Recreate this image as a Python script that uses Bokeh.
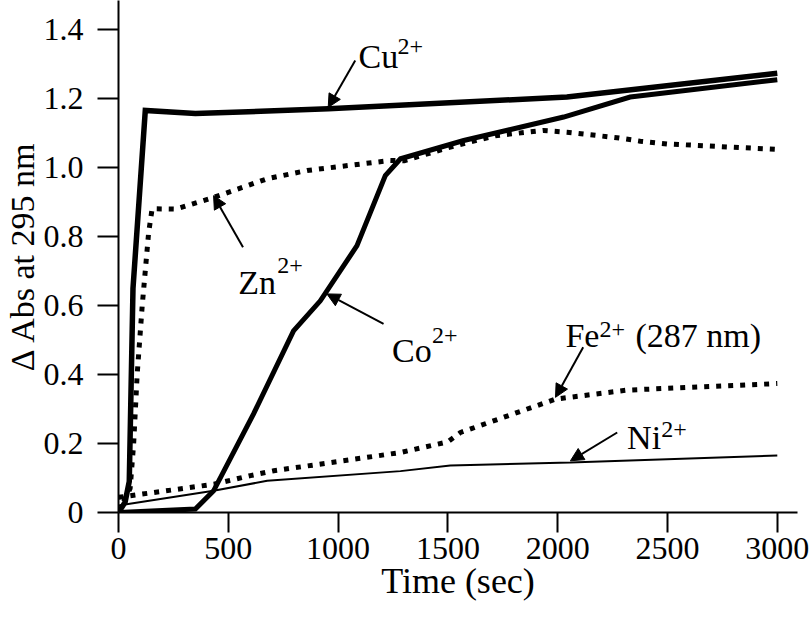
from bokeh.plotting import figure
from bokeh.models import Arrow, NormalHead, FixedTicker
from bokeh.core.properties import value
from bokeh.embed import file_html
from bokeh.resources import INLINE

# ---- data (time in sec, delta Abs) ----
cu_t = [0, 30, 49, 66, 122, 350, 956, 2042, 3000]
cu_v = [0, 0.03, 0.09, 0.65, 1.166, 1.157, 1.171, 1.205, 1.274]

zn_t = [0, 53, 69, 85, 108, 137, 153, 259, 434, 677, 859, 1238, 1300, 1500, 1716, 1935, 2042, 2270, 2376, 2498, 3000]
zn_v = [0, 0.07, 0.2, 0.4, 0.6, 0.81, 0.881, 0.88, 0.914, 0.968, 0.992, 1.021, 1.02, 1.058, 1.093, 1.108, 1.103, 1.087, 1.077, 1.069, 1.053]

co_t = [0, 350, 433, 615, 797, 919, 1086, 1215, 1284, 1572, 2027, 2330, 3000]
co_v = [0, 0.01, 0.063, 0.286, 0.527, 0.614, 0.774, 0.977, 1.026, 1.079, 1.147, 1.205, 1.255]

fe_t = [0, 434, 601, 707, 1284, 1500, 1557, 1990, 2316, 3000]
fe_v = [0.044, 0.082, 0.107, 0.121, 0.174, 0.205, 0.232, 0.329, 0.355, 0.374]

ni_t = [0, 433, 677, 1284, 1511, 2057, 3000]
ni_v = [0.02, 0.063, 0.092, 0.12, 0.136, 0.145, 0.165]

x_ticks = [0, 500, 1000, 1500, 2000, 2500, 3000]
y_ticks = [0, 0.2, 0.4, 0.6, 0.8, 1.0, 1.2, 1.4]
y_tick_labels = ["0", "0.2", "0.4", "0.6", "0.8", "1.0", "1.2", "1.4"]

ion_names = ["Cu", "Zn", "Co", "Fe", "Ni"]
ion_charge = ["2+", "2+", "2+", "2+", "2+"]

FONT = "Liberation Serif"

p = figure(frame_width=679, frame_height=512,
           x_range=(0, 3092), y_range=(0, 1.485),
           output_backend="svg", toolbar_location=None,
           min_border_left=118, min_border_right=13,
           min_border_top=0, min_border_bottom=119)
p.outline_line_color = None
p.xgrid.visible = False
p.ygrid.visible = False
p.background_fill_color = "white"
p.border_fill_color = "white"

for ax in (p.xaxis[0], p.yaxis[0]):
    ax.axis_line_width = 2
    ax.axis_line_color = "black"
    ax.major_tick_line_width = 2
    ax.major_tick_line_color = "black"
    ax.major_tick_in = 0
    ax.minor_tick_line_color = None
    ax.major_label_text_font = FONT
    ax.major_label_text_font_size = "32px"
    ax.major_label_text_color = "black"
    ax.axis_label_text_font = FONT
    ax.axis_label_text_font_style = "normal"
    ax.axis_label_text_color = "black"

p.xaxis.ticker = FixedTicker(ticks=x_ticks)
p.yaxis.ticker = FixedTicker(ticks=y_ticks)
p.yaxis.major_label_overrides = {t: l for t, l in zip(y_ticks, y_tick_labels)}
p.xaxis.major_tick_out = 20
p.yaxis.major_tick_out = 21
p.xaxis.major_label_standoff = 5
p.yaxis.major_label_standoff = 14

p.xaxis.axis_label = "Time (sec)"
p.xaxis.axis_label_text_font_size = "36px"
p.xaxis.axis_label_standoff = -1

p.yaxis.axis_label = "\u0394 Abs at 295 nm"
p.yaxis.axis_label_text_font_size = "34px"
p.yaxis.axis_label_text_line_height = 0.6
p.yaxis.axis_label_standoff = 0

# ---- curves (dotted first so the solid curves lie on top) ----
p.line(zn_t, zn_v, line_width=5, line_color="black", line_dash="5 7")
p.line(fe_t, fe_v, line_width=5, line_color="black", line_dash="5 7")
p.line(ni_t, ni_v, line_width=2, line_color="black")
p.line(co_t, co_v, line_width=5, line_color="black", line_join="miter")
p.line(cu_t, cu_v, line_width=5.5, line_color="black", line_join="miter")

# ---- labels ----
base_x = [1093, 545, 1246, 2035, 2316]
base_y = [1.322, 0.667, 0.469, 0.513, 0.218]
sup_x = [1271, 723, 1428, 2190, 2471]
sup_y = [1.352, 0.716, 0.513, 0.532, 0.242]

p.text(x=base_x, y=base_y, text=ion_names, text_font=value(FONT), text_font_size="34px",
       text_align="left", text_baseline="alphabetic", text_color="black")
p.text(x=sup_x, y=sup_y, text=ion_charge, text_font=value(FONT), text_font_size="24px",
       text_align="left", text_baseline="alphabetic", text_color="black")
p.text(x=[2354], y=[0.513], text=["(287 nm)"], text_font=value(FONT), text_font_size="34px",
       text_align="left", text_baseline="alphabetic", text_color="black")

# ---- arrows ----
arrows = [
    (1078, 1.311, 955, 1.175),
    (567, 0.769, 433, 0.919),
    (1207, 0.547, 949, 0.634),
    (2116, 0.479, 1990, 0.334),
    (2271, 0.232, 2058, 0.150),
]
for xs, ys, xe, ye in arrows:
    p.add_layout(Arrow(end=NormalHead(size=13, fill_color="black", line_color="black", line_width=1),
                       x_start=xs, y_start=ys, x_end=xe, y_end=ye,
                       line_width=2, line_color="black"))

open("out.html", "w").write(file_html(p, INLINE))
